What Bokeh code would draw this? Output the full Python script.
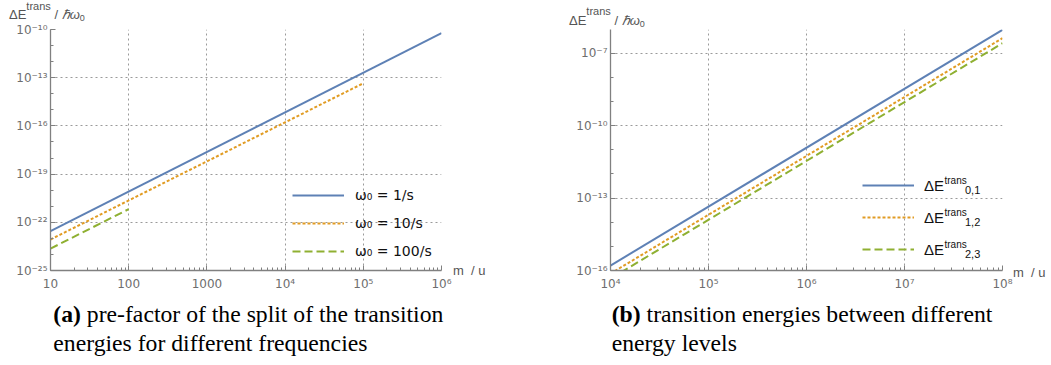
from bokeh.plotting import figure
from bokeh.models import FixedTicker, Legend, LegendItem, Div
from bokeh.layouts import row, column
from bokeh.embed import file_html
from bokeh.resources import INLINE

# ---------------- data: panel (a) ----------------
a_m_w1 = [10, 1e6]
a_e_w1 = [2.8e-23, 6.0e-11]
a_m_w10 = [10, 1e5]
a_e_w10 = [8.5e-24, 4.5e-14]
a_m_w100 = [10, 100]
a_e_w100 = [2.3e-24, 6.6e-22]
a_labels = ["ω₀ = 1/s", "ω₀ = 10/s", "ω₀ = 100/s"]
a_xticks = [10, 100, 1000, 1e4, 1e5, 1e6]
a_xtick_labels = ["10", "100", "1000", "10⁴", "10⁵", "10⁶"]
a_yticks = [1e-25, 1e-22, 1e-19, 1e-16, 1e-13, 1e-10]
a_ytick_labels = ["10⁻²⁵", "10⁻²²", "10⁻¹⁹", "10⁻¹⁶", "10⁻¹³", "10⁻¹⁰"]

# ---------------- data: panel (b) ----------------
b_m = [1e4, 1e8]
b_e01 = [1.6e-16, 9.3e-7]
b_e12 = [7.4e-17, 4.2e-7]
b_e23 = [4.6e-17, 2.6e-7]
b_subs = ["0,1", "1,2", "2,3"]
b_xticks = [1e4, 1e5, 1e6, 1e7, 1e8]
b_xtick_labels = ["10⁴", "10⁵", "10⁶", "10⁷", "10⁸"]
b_yticks = [1e-16, 1e-13, 1e-10, 1e-7]
b_ytick_labels = ["10⁻¹⁶", "10⁻¹³", "10⁻¹⁰", "10⁻⁷"]

caption_a = ["(a)", "pre-factor of the split of the transition", "energies for different frequencies"]
caption_b = ["(b)", "transition energies between different", "energy levels"]

BLUE = "#5E81B5"
ORANGE = "#E19C24"
GREEN = "#8FB032"
AXIS = "#808080"
TICKTXT = "#6e6e6e"
FONT = "Liberation Sans"
TICKFONT = "DejaVu Sans"
SERIF = "Liberation Serif"
FIG_H = 300


def minor_decades(lo, hi):
    out = []
    for k in range(lo, hi):
        for j in range(2, 10):
            out.append(j * 10.0 ** k)
    return out


def style(p, xt, xl, yt, yl, xminor, yminor):
    p.outline_line_color = None
    p.xaxis.ticker = FixedTicker(ticks=xt, minor_ticks=xminor)
    p.yaxis.ticker = FixedTicker(ticks=yt, minor_ticks=yminor)
    p.xaxis.major_label_overrides = {t: s for t, s in zip(xt, xl)}
    p.yaxis.major_label_overrides = {t: s for t, s in zip(yt, yl)}
    for ax in (p.xaxis[0], p.yaxis[0]):
        ax.axis_line_color = AXIS
        ax.axis_line_width = 1.3
        ax.major_tick_line_color = AXIS
        ax.minor_tick_line_color = AXIS
        ax.major_tick_in = 5
        ax.major_tick_out = 0
        ax.minor_tick_in = 3
        ax.minor_tick_out = 0
        ax.major_label_text_font = TICKFONT
        ax.major_label_text_font_size = "12px"
        ax.major_label_text_color = TICKTXT
    p.xaxis.major_label_standoff = 6
    p.yaxis.major_label_standoff = 3
    for g in (p.xgrid[0], p.ygrid[0]):
        g.grid_line_color = "#9a9a9a"
        g.grid_line_dash = "2 3"
        g.grid_line_width = 1
    p.xgrid.ticker = FixedTicker(ticks=xt)
    p.ygrid.ticker = FixedTicker(ticks=yt)


# ================= panel (a) =================
p1 = figure(width=520, height=FIG_H, x_axis_type="log", y_axis_type="log",
            x_range=(10, 1e6), y_range=(1e-25, 1e-10),
            min_border_left=50, min_border_right=79, min_border_top=28, min_border_bottom=30,
            output_backend="svg", toolbar_location=None)
style(p1, a_xticks, a_xtick_labels, a_yticks, a_ytick_labels,
      minor_decades(1, 6), [10.0 ** k for k in range(-25, -9)])

r1 = p1.line(a_m_w1, a_e_w1, line_color=BLUE, line_width=2)
r2 = p1.line(a_m_w10, a_e_w10, line_color=ORANGE, line_width=2, line_dash="3 2")
r3 = p1.line(a_m_w100, a_e_w100, line_color=GREEN, line_width=2, line_dash="8 4")

leg1 = Legend(items=[LegendItem(label=a_labels[0], renderers=[r1]),
                     LegendItem(label=a_labels[1], renderers=[r2]),
                     LegendItem(label=a_labels[2], renderers=[r3])],
              location=(242, 9), glyph_width=52, glyph_height=20, label_height=20,
              spacing=8, padding=0, margin=0, label_standoff=11,
              label_text_font="DejaVu Sans", label_text_font_size="14px", label_text_color="#111111",
              border_line_color=None, background_fill_alpha=0)
p1.add_layout(leg1, "center")

# ================= panel (b) =================
p2 = figure(width=531, height=FIG_H, x_axis_type="log", y_axis_type="log",
            x_range=(1e4, 1e8), y_range=(1e-16, 9.6e-7),
            min_border_left=90, min_border_right=49, min_border_top=29, min_border_bottom=30,
            output_backend="svg", toolbar_location=None)
style(p2, b_xticks, b_xtick_labels, b_yticks, b_ytick_labels,
      minor_decades(4, 8), [10.0 ** k for k in range(-16, -6)])

s1 = p2.line(b_m, b_e01, line_color=BLUE, line_width=2)
s2 = p2.line(b_m, b_e12, line_color=ORANGE, line_width=2, line_dash="3 2")
s3 = p2.line(b_m, b_e23, line_color=GREEN, line_width=2, line_dash="8 4")

leg2 = Legend(items=[LegendItem(label="ΔE", renderers=[s1]),
                     LegendItem(label="ΔE", renderers=[s2]),
                     LegendItem(label="ΔE", renderers=[s3])],
              location=(252, 10.7), glyph_width=52, glyph_height=20, label_height=20,
              spacing=12, padding=0, margin=0, label_standoff=10,
              label_text_font=FONT, label_text_font_size="15px", label_text_color="#111111",
              border_line_color=None, background_fill_alpha=0)
p2.add_layout(leg2, "center")


# ================= texts (HTML overlay in caption strip) =================
def piece(left, baseline, text, size, color="#555555", font=FONT, lh=None,
          ascent=0.905, descent=0.212):
    # positions given in page px; the strip starts at y = FIG_H
    lh = size if lh is None else lh
    top = baseline - ((lh - (ascent + descent) * size) / 2 + ascent * size) - FIG_H
    st = ("position:absolute;left:%.1fpx;top:%.1fpx;font-family:'%s';font-size:%spx;"
          "line-height:%spx;color:%s;white-space:pre;" % (left, top, font, size, lh, color))
    return '<div style="%s">%s</div>' % (st, text)


def sp(text, size, dy, italic=False):
    return ('<span style="font-size:%spx;position:relative;top:%spx;%s">%s</span>'
            % (size, dy, "font-style:italic;" if italic else "", text))


parts = []
# y-axis titles
for (x0, bl, up) in [(9, 19, -9), (569, 24.5, -10)]:
    title = "ΔE" + sp("trans", 11, up) + " / " + sp("ℏω", 13, 0, italic=True) + sp("0", 9, 2)
    parts.append(piece(x0, bl, title, 13))
# x-axis titles
parts.append(piece(453, 275, "m  / u", 13))
parts.append(piece(1013, 276.5, "m  / u", 13))
# legend (b) super/subscripts
for i, sub in enumerate(b_subs):
    cy = 185.7 + 31.8 * i
    parts.append(piece(944.5, cy - 1.2, "trans", 10, color="#111111"))
    parts.append(piece(965, cy + 8.6, sub, 11, color="#111111"))
# captions
for x0, cap in [(53.3, caption_a), (611.7, caption_b)]:
    parts.append(piece(x0, 322.7, "<b>%s</b> %s<br>%s" % tuple(cap), 23.7, color="#000000",
                       font=SERIF, lh=29, ascent=0.891, descent=0.216))

html = '<div style="position:relative;width:1051px;height:65px;margin:0;padding:0;">%s</div>' % "".join(parts)
strip = Div(text=html, width=1051, height=65, margin=0, styles={"overflow": "visible"})

layout = column(row(p1, p2, spacing=0), strip, spacing=0)
open("out.html", "w").write(file_html(layout, INLINE))
